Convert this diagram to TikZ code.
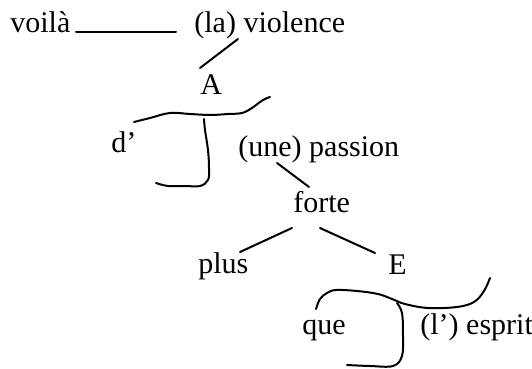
\documentclass[tikz,border=0pt]{standalone}
\usepackage{fontspec}
\setmainfont{Liberation Serif}
\begin{document}
\begin{tikzpicture}[x=0.5pt,y=-0.5pt,
  word/.style={anchor=base west,inner sep=0pt,font=\fontsize{15}{18}\selectfont},
  link/.style={line width=1pt,line cap=round,line join=round}]
\useasboundingbox (0,0) rectangle (532,369);
% words
\node[word] (voila) at (10,33) {voilà};
\node[word] (violence) at (194,33) {(la) violence};
\node[word] (A) at (200,95) {A};
\node[word] (d) at (111,153) {d’};
\node[word] (passion) at (238,157) {(une) passion};
\node[word] (forte) at (293,213) {forte};
\node[word] (plus) at (198,274) {plus};
\node[word] (E) at (388,275) {E};
\node[word] (que) at (302,335) {que};
\node[word] (esprit) at (420,335) {(l’) esprit};
% connector ends
\coordinate (v1) at (76,32);
\coordinate (v2) at (176,32);
\coordinate (a1) at (238,39);
\coordinate (a2) at (200,68);
\coordinate (p1) at (277,163);
\coordinate (p2) at (309,187);
\coordinate (f1) at (292,228);
\coordinate (f2) at (240,252);
\coordinate (f3) at (320,228);
\coordinate (f4) at (375,253);
% straight connectors
\draw[link] (v1) -- (v2);
\draw[link] (a1) -- (a2);
\draw[link] (p1) -- (p2);
\draw[link] (f1) -- (f2);
\draw[link] (f3) -- (f4);
% upper hand-drawn bracket
\draw[link] plot[smooth,tension=0.6] coordinates {(134,122) (150,118) (170,113) (190,114) (210,115) (228,114) (242,113) (252,108) (260,102) (265,99) (270,97)};
\draw[link] plot[smooth,tension=0.6] coordinates {(204,119) (205,130) (208,150) (209,168) (208,180) (200,186) (185,186) (168,186) (156,183)};
% lower hand-drawn bracket
\draw[link] plot[smooth,tension=0.6] coordinates {(316,309) (320,299) (327,293) (336,290) (357,291) (378,294) (392,299) (405,304) (428,308) (457,307) (474,302) (484,291) (490,278)};
\draw[link] plot[smooth,tension=0.6] coordinates {(397,303) (402,313) (403,335) (402,356) (393,366) (370,366) (347,365)};
\end{tikzpicture}
\end{document}
